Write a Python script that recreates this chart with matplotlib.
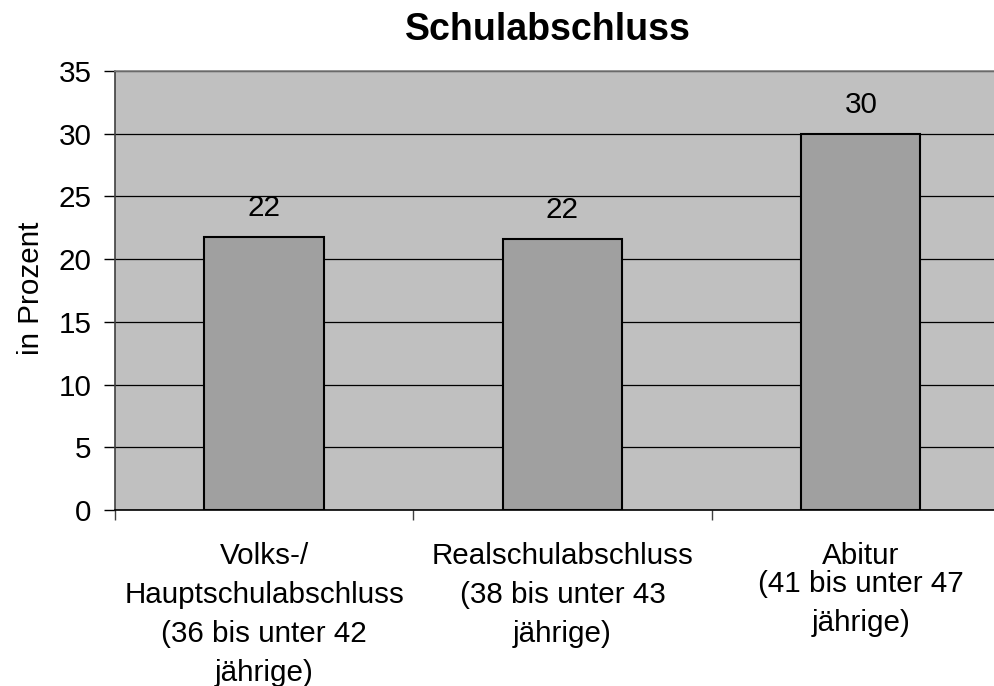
import matplotlib
matplotlib.use("Agg")
import matplotlib.pyplot as plt
from matplotlib.transforms import blended_transform_factory

plt.rcParams['font.family'] = ['Liberation Sans', 'DejaVu Sans']

title = "Schulabschluss"
ylabel = "in Prozent"
categories = ["Volks-/\nHauptschulabschluss\n(36 bis unter 42\njährige)",
              "Realschulabschluss\n(38 bis unter 43\njährige)",
              "Abitur"]
abitur_sub = "(41 bis unter 47\njährige)"
values = [21.75, 21.6, 30.0]
yticks = [0, 5, 10, 15, 20, 25, 30, 35]

W, H = 995, 686
fig = plt.figure(figsize=(W / 100, H / 100), dpi=100)
left, right, top, bottom = 115, 1010, 71, 510
ax = fig.add_axes([left / W, (H - bottom) / H, (right - left) / W, (bottom - top) / H])
ax.set_facecolor('#C0C0C0')

x = list(range(len(values)))
ax.bar(x, values, width=0.40, color='#A0A0A0', edgecolor='black', linewidth=1.5, zorder=3)

ax.set_xlim(-0.5, len(values) - 0.5)
ax.set_ylim(0, 35)
ax.set_yticks(yticks)
ax.yaxis.grid(True, color='black', linewidth=0.9, zorder=1)
ax.set_axisbelow(True)

FS = 21.3
ax.tick_params(axis='y', direction='out', length=8, width=1, labelsize=FS, pad=9, colors='black')
ax.set_xticks([])
ax.set_xticks([i - 0.5 for i in range(len(values) + 1)], minor=True)
ax.tick_params(axis='x', which='minor', direction='out', length=7.5, width=1, color='#404040')

ax.spines['right'].set_visible(False)
ax.spines['top'].set_color('#808080')
ax.spines['top'].set_linewidth(1.2)
ax.spines['left'].set_color('#404040')
ax.spines['left'].set_linewidth(1.2)
ax.spines['bottom'].set_color('black')
ax.spines['bottom'].set_linewidth(1.2)

for xi, v in zip(x, values):
    ax.annotate(f"{v:.0f}", xy=(xi, v), xytext=(0, 21), textcoords='offset points',
                ha='center', va='center', fontsize=FS, zorder=4)

trans = blended_transform_factory(ax.transData, ax.transAxes)
for xi, lab in zip(x, categories):
    ax.text(xi, -0.074, lab, transform=trans, ha='center', va='top', fontsize=FS,
            multialignment='center', linespacing=1.5)
ax.text(x[2], -0.137, abitur_sub, transform=trans, ha='center', va='top', fontsize=FS,
        multialignment='center', linespacing=1.5)

fig.text(548 / W, 1 - 30 / H, title, ha='center', va='center', fontsize=27, fontweight='bold')
fig.text(31 / W, 1 - 288 / H, ylabel, ha='center', va='center', rotation=90, fontsize=FS)

fig.savefig("out.png", dpi=100)
